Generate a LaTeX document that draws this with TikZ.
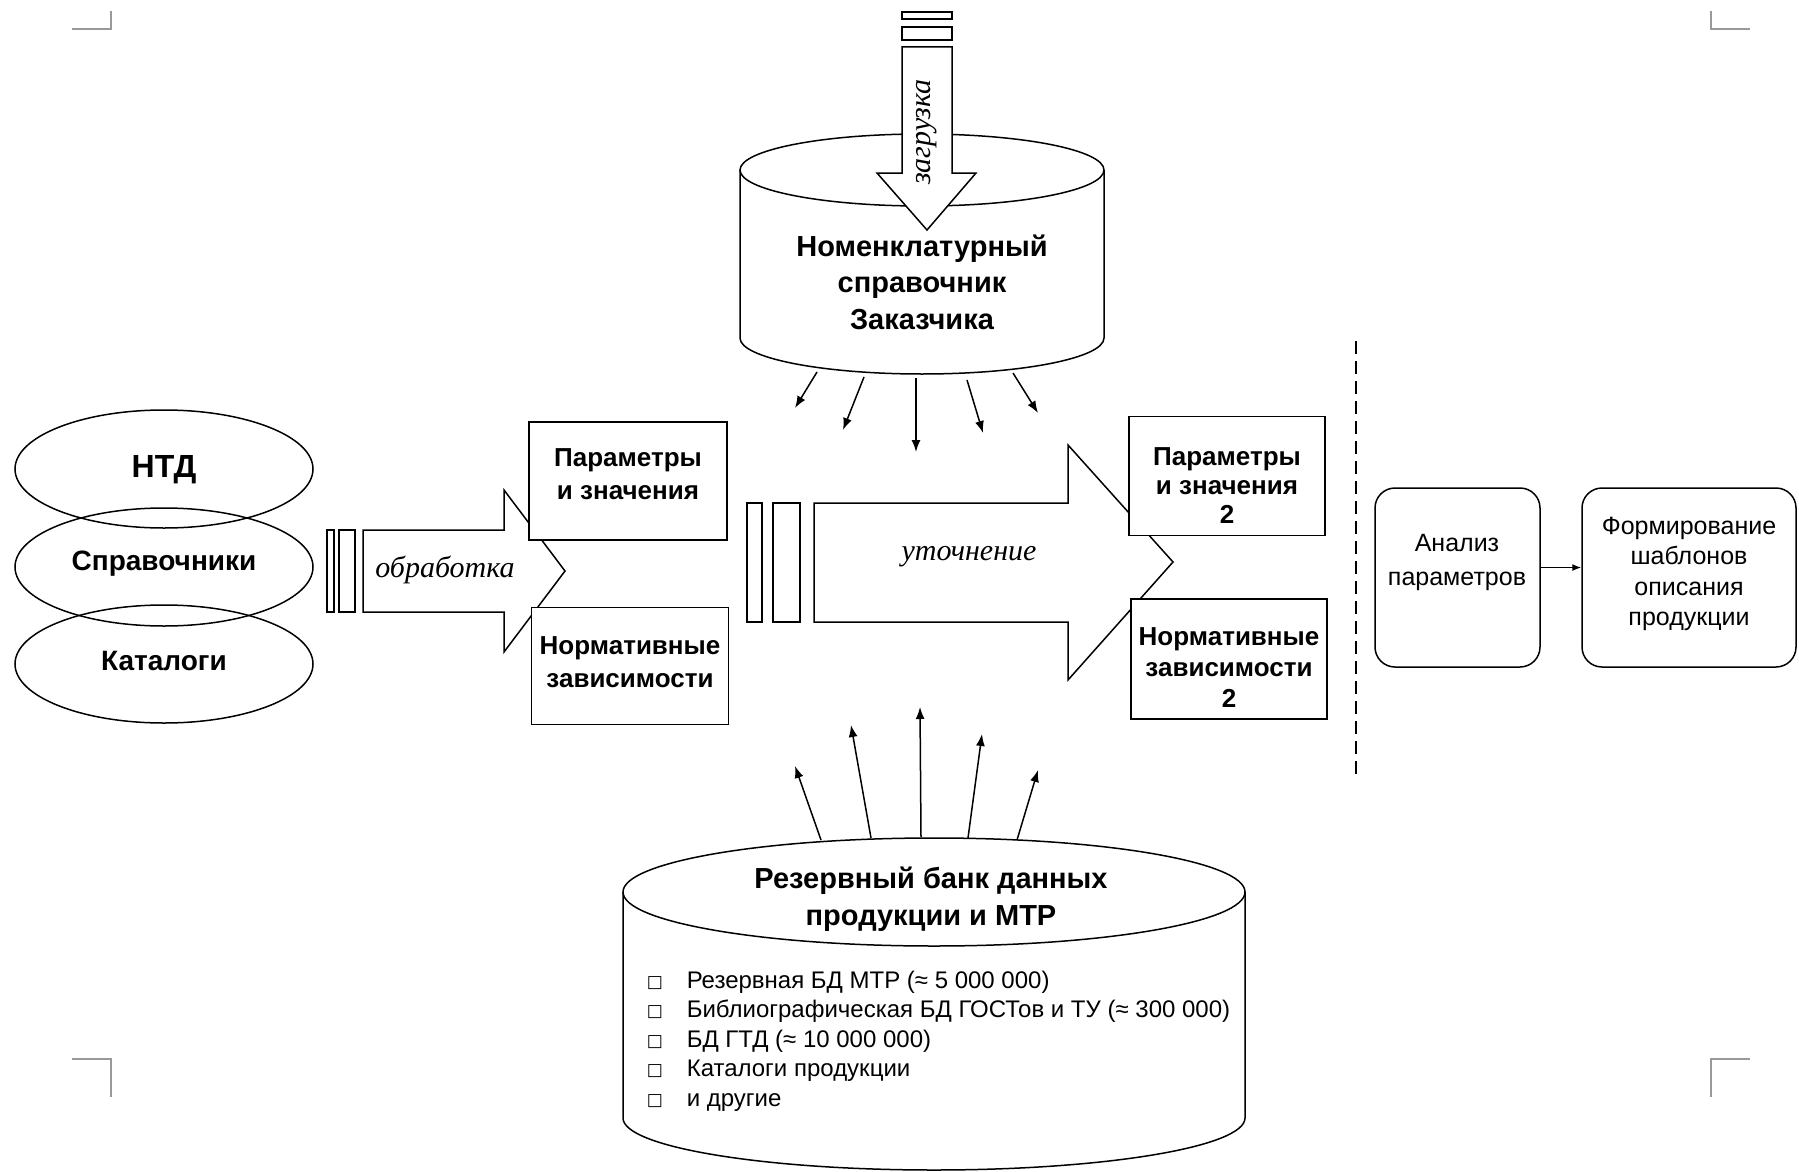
\documentclass[tikz,border=0pt]{standalone}
\usepackage{fontspec}
\setmainfont{Liberation Sans}
\newfontfamily\serifit{Liberation Serif}
\newfontfamily\dejavu{DejaVu Sans}
\usetikzlibrary{arrows.meta,shapes.geometric}
\newcommand\setfs[2]{\fontsize{#1}{#2}\selectfont}
\newcommand\bul{\makebox[40pt][l]{\dejavu\setfs{17}{17}\raisebox{1pt}{□}}}
\begin{document}
\begin{tikzpicture}[x=1pt,y=-1pt,line width=1.5pt,
  arr/.style={-{Latex[length=12pt,width=9pt]},line width=1.5pt},
  bbox/.style={draw,fill=white,inner sep=0pt},
  btext/.style={align=center,inner sep=0pt,font=\bfseries\setfs{26}{31}},
  rbox/.style={draw,fill=white,rounded corners=20pt,inner sep=0pt},
  rtext/.style={align=center,font=\setfs{25}{31}},
  ell/.style={ellipse,draw,minimum width=298pt,minimum height=118pt,inner sep=0pt},
  itl/.style={font=\serifit\itshape\setfs{30}{30}},
  corner/.style={draw=black!40,line width=1.2pt},
  bigarrow/.style={draw,fill=white,line width=1.5pt}]
\useasboundingbox (0,0) rectangle (1799,1172);

% corner marks
\draw[corner] (72,29) -- (111,29) -- (111,11);
\draw[corner] (1711,11) -- (1711,29) -- (1750,29);
\draw[corner] (72,1059) -- (111,1059) -- (111,1097);
\draw[corner] (1750,1059) -- (1711,1059) -- (1711,1097);

% top cylinder
\draw[fill=white] (740,170) -- (740,338) arc[start angle=180,end angle=360,x radius=182pt,y radius=36pt] -- (1104,170);
\draw (922,170) ellipse[x radius=182pt,y radius=36pt];
\draw[bigarrow] (902,47) -- (952,47) -- (952,173) -- (976,173) -- (927,230) -- (877,173) -- (902,173) -- cycle;
\draw (902,12) rectangle (952,19);
\draw (902,27) rectangle (952,40);
\node[itl,rotate=90] (zagr) at (927,132) {загрузка};
\node[align=center,font=\bfseries\setfs{29}{36.5}] (nom) at (922,282) {Номенклатурный\\справочник\\Заказчика};

% arrows from top cylinder
\coordinate (t1s) at (817,372); \coordinate (t1e) at (795,408);
\coordinate (t2s) at (864,377); \coordinate (t2e) at (843,430);
\coordinate (t3s) at (916,378); \coordinate (t3e) at (916,452);
\coordinate (t4s) at (967,380); \coordinate (t4e) at (983,433);
\coordinate (t5s) at (1013,373); \coordinate (t5e) at (1038,413);
\foreach \i in {1,...,5} {\draw[arr] (t\i s) -- (t\i e);}

% left ellipses
\node[ell] (ntd) at (164,469) {};
\node[ell] (spr) at (164,567) {};
\node[ell] (kat) at (164,664) {};
\node[font=\bfseries\setfs{32}{32}] (ntdt) at (164,470) {НТД};
\node[font=\bfseries\setfs{28}{28}] (sprt) at (164,564) {Справочники};
\node[font=\bfseries\setfs{28}{28}] (katt) at (164,661) {Каталоги};

% obrabotka arrow
\draw (327,530) rectangle (334,612);
\draw (339,530) rectangle (355,612);
\draw[bigarrow] (363,530) -- (504,530) -- (504,490) -- (565,571) -- (504,652) -- (504,612) -- (363,612) -- cycle;
\node[itl] (obr) at (445,570) {обработка};

% utochnenie arrow
\draw (747,503) rectangle (762,622);
\draw (773,503) rectangle (800,622);
\draw[bigarrow] (814,503) -- (1068,503) -- (1068,445) -- (1173,562) -- (1068,680) -- (1068,622) -- (814,622) -- cycle;
\node[itl] (utoch) at (969,557) {уточнение};

% boxes
\node[bbox,minimum width=198pt,minimum height=118pt] (p1) at (628,481) {};
\node[btext,font=\bfseries\setfs{26}{33}] (p1t) at (628,474) {Параметры\\и значения};
\node[bbox,minimum width=197pt,minimum height=117pt] (n1) at (630,666) {};
\node[btext,font=\bfseries\setfs{26}{33}] (n1t) at (630,662) {Нормативные\\зависимости};
\node[bbox,minimum width=196pt,minimum height=119pt] (p2) at (1227,476) {};
\node[btext,font=\bfseries\setfs{26}{29}] (p2t) at (1227,486) {Параметры\\и значения\\2};
\node[bbox,minimum width=196pt,minimum height=120pt] (n2) at (1229,659) {};
\node[btext,font=\bfseries\setfs{26}{31}] (n2t) at (1229,668) {Нормативные\\зависимости\\2};

% dashed separator
\coordinate (dtop) at (1356,341);
\coordinate (dbot) at (1356,778);
\draw[dash pattern=on 13pt off 7pt] (dtop) -- (dbot);

% right boxes
\node[rbox,minimum width=165pt,minimum height=179pt] (anal) at (1457.5,577.5) {};
\node[rtext,font=\setfs{25}{34}] (analt) at (1457,562) {Анализ\\параметров};
\node[rbox,minimum width=214pt,minimum height=179pt] (form) at (1689,577.5) {};
\node[rtext,font=\setfs{25}{30.5}] (formt) at (1689,574) {Формирование\\шаблонов\\описания\\продукции};
\draw[-{Latex[length=9pt,width=7pt]},line width=1.3pt] ([yshift=10pt]anal.east) -- ([yshift=10pt]form.west);

% bottom cylinder
\draw[fill=white] (623,892) -- (623,1118) arc[start angle=180,end angle=360,x radius=311pt,y radius=52pt] -- (1245,892);
\draw (934,892) ellipse[x radius=311pt,y radius=54pt];
\node[align=center,font=\bfseries\setfs{29}{37}] (rez) at (931,899) {Резервный банк данных\\продукции и МТР};
\node[anchor=west,align=left,inner sep=0pt,font=\setfs{24}{29.5}] (list) at (646,1041)
 {\bul Резервная БД МТР (≈ 5 000 000)\\
  \bul Библиографическая БД ГОСТов и ТУ (≈ 300 000)\\
  \bul БД ГТД (≈ 10 000 000)\\
  \bul Каталоги продукции\\
  \bul и другие};

% arrows from bottom cylinder
\coordinate (b1s) at (821,840); \coordinate (b1e) at (795,766);
\coordinate (b2s) at (871,838); \coordinate (b2e) at (851,725);
\coordinate (b3s) at (921,837); \coordinate (b3e) at (920,707);
\coordinate (b4s) at (968,838); \coordinate (b4e) at (982,734);
\coordinate (b5s) at (1017,840); \coordinate (b5e) at (1038,770);
\foreach \i in {1,...,5} {\draw[arr] (b\i s) -- (b\i e);}
\end{tikzpicture}
\end{document}
